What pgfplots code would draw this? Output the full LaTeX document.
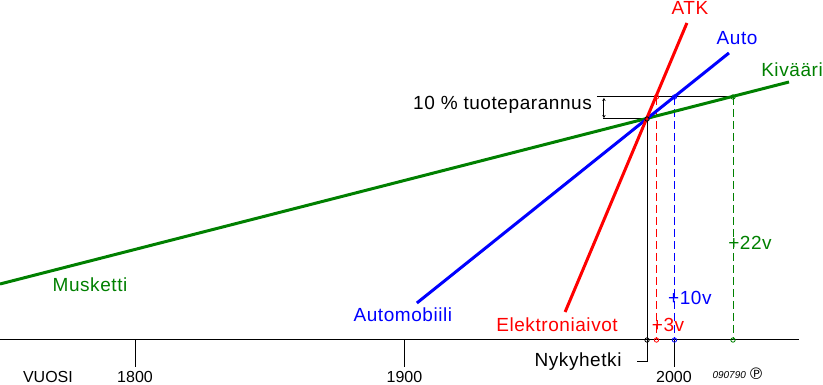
\documentclass[border=0pt]{standalone}
\usepackage{fontspec}
\setmainfont{Liberation Sans}
\newfontfamily\labelfont{Liberation Sans}[LetterSpace=3]
\newfontfamily\symfont{DejaVu Sans}
\usepackage{pgfplots}
\pgfplotsset{compat=1.18}
\usetikzlibrary{arrows.meta}
\definecolor{kgreen}{RGB}{0,128,0}
\definecolor{kred}{RGB}{255,0,0}
\definecolor{kblue}{RGB}{0,0,255}
\tikzset{
  lbl/.style={font=\labelfont\fontsize{19bp}{22bp}\selectfont, inner sep=0pt, anchor=base},
  tck/.style={font=\fontsize{16bp}{19bp}\selectfont, inner sep=0pt, anchor=base},
}
\begin{document}
\begin{tikzpicture}
\begin{axis}[
  scale only axis, width=823bp, height=385bp,
  xmin=1749.9, xmax=2055.3, ymin=-45, ymax=340,
  hide axis, clip=false,
]
% year axis and ticks
\addplot[black, line width=1bp] coordinates {(1749.9,0) (2046.4,0)};
\addplot[black, line width=1bp] coordinates {(1800,0) (1800,-27)};
\addplot[black, line width=1bp] coordinates {(1900,0) (1900,-27)};
\addplot[black, line width=1bp] coordinates {(2000.18,0) (2000.18,-27)};
\node[tck] at (axis cs:1767.7,-42) {VUOSI};
\node[tck] at (axis cs:1800,-42) {1800};
\node[tck] at (axis cs:1900,-42) {1900};
\node[tck] at (axis cs:2000,-42) {2000};

% present moment
\addplot[black, line width=1bp] coordinates {(1990,221) (1990,-22) (1986.3,-22)};
\node[lbl, anchor=base] at (axis cs:1964.4,-26) {Nykyhetki};

% 10 % improvement level
\addplot[black, line width=1bp] coordinates {(1971.4,243) (2021.9,243)};
\addplot[black, line width=1bp] coordinates {(1973.8,221) (1990,221)};
\addplot[black, line width=1bp, {Stealth[length=3bp,width=3.5bp]}-{Stealth[length=3bp,width=3.5bp]}] coordinates {(1974.0,222) (1974.0,242)};
\node[lbl, anchor=base east] at (axis cs:1969.6,230) {10 \% tuoteparannus};

% time to reach the improvement
\addplot[kred, line width=1bp, dash pattern=on 8bp off 4bp] coordinates {(1993.5,243) (1993.5,0)};
\addplot[kblue, line width=1bp, dash pattern=on 8bp off 4bp] coordinates {(2000.18,243) (2000.18,0)};
\addplot[kgreen, line width=1bp, dash pattern=on 8bp off 4bp] coordinates {(2021.9,243) (2021.9,0)};

% technology lines
\addplot[kgreen, line width=3bp] coordinates {(1749.9,56) (2042.7,258)};
\addplot[kblue, line width=3bp] coordinates {(1904.6,37) (2020.4,287)};
\addplot[kred, line width=3bp] coordinates {(1959.6,28) (2004.8,317)};

% markers
\addplot[only marks, mark=o, mark size=2.2bp, black, mark options={line width=0.8bp}] coordinates {(1990,221) (1990,0)};
\addplot[only marks, mark=o, mark size=2.2bp, kred, mark options={line width=0.8bp}] coordinates {(1993.5,243) (1993.5,0)};
\addplot[only marks, mark=o, mark size=2.2bp, kblue, mark options={line width=0.8bp}] coordinates {(2000.18,243) (2000.18,0)};
\addplot[only marks, mark=o, mark size=2.2bp, kgreen, mark options={line width=0.8bp}] coordinates {(2021.9,243) (2021.9,0)};

% labels
\node[lbl, text=kred] at (axis cs:2005.9,325) {ATK};
\node[lbl, text=kblue] at (axis cs:2023.4,295) {Auto};
\node[lbl, text=kgreen] at (axis cs:2043.8,263) {Kivääri};
\node[lbl, text=kgreen] at (axis cs:1783.3,48) {Musketti};
\node[lbl, text=kblue] at (axis cs:1899.4,18) {Automobiili};
\node[lbl, text=kred] at (axis cs:1956.6,8) {Elektroniaivot};
\node[lbl, text=kred] at (axis cs:1997.8,8) {+3v};
\node[lbl, text=kblue] at (axis cs:2005.9,35) {+10v};
\node[lbl, text=kgreen] at (axis cs:2028.2,90) {+22v};

% signature
\node[font=\itshape\fontsize{10bp}{12bp}\selectfont, inner sep=0pt, anchor=base] at (axis cs:2020.5,-38) {090790};
\node[font=\symfont\fontsize{16bp}{18bp}\selectfont, inner sep=0pt, anchor=center] at (axis cs:2030.5,-34) {℗};

\coordinate (bl) at (rel axis cs:0,0);
\coordinate (tr) at (rel axis cs:1,1);
\end{axis}
\pgfresetboundingbox
\path (bl) rectangle (tr);
\end{tikzpicture}
\end{document}
